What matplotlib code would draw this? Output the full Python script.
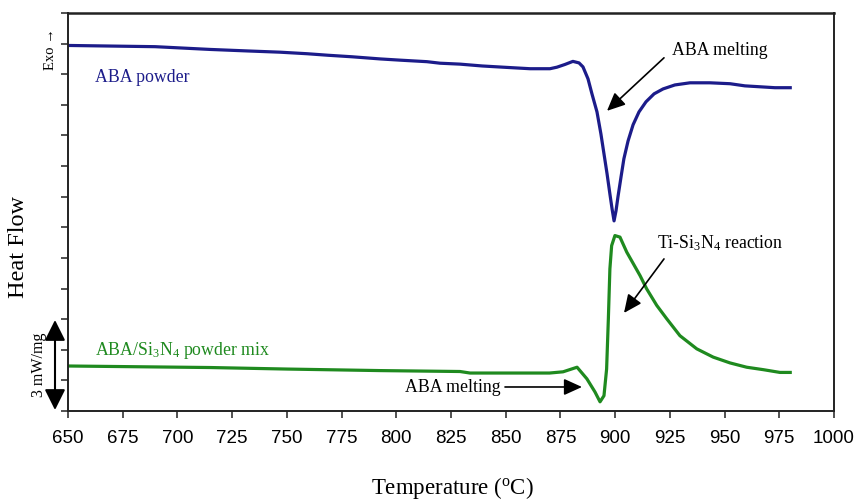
import matplotlib
matplotlib.use("Agg")
import matplotlib.pyplot as plt
import numpy as np

plt.rcParams["mathtext.fontset"] = "custom"
plt.rcParams["mathtext.rm"] = "Liberation Serif"
plt.rcParams["mathtext.it"] = "Liberation Serif:italic"
plt.rcParams["mathtext.bf"] = "Liberation Serif:bold"

# ---- data (temperature in °C, heat flow in mW/mg offset units) ----
aba_T = [650.0, 689.8, 714.9, 732.2, 746.9, 759.2, 768.8, 779.8, 792.6, 801.7,
         814.0, 820.0, 829.1, 839.2, 848.8, 861.1, 870.2, 873.4, 877.1, 880.7,
         883.5, 885.3, 887.6, 889.4, 891.7, 893.5, 894.9, 896.3, 897.6, 898.6,
         899.5, 900.4, 901.3, 902.7, 904.0, 905.9, 908.2, 910.9, 914.1, 917.8,
         921.9, 927.3, 934.2, 943.3, 952.5, 959.3, 966.2, 973.0, 980.0]
aba_HF = [11.94, 11.90, 11.81, 11.76, 11.72, 11.67, 11.62, 11.57, 11.50, 11.46,
          11.41, 11.36, 11.33, 11.27, 11.23, 11.18, 11.18, 11.23, 11.32, 11.42,
          11.37, 11.24, 10.85, 10.36, 9.77, 9.05, 8.40, 7.75, 7.09, 6.60,
          6.21, 6.54, 7.00, 7.65, 8.24, 8.82, 9.35, 9.77, 10.10, 10.36,
          10.52, 10.65, 10.72, 10.72, 10.69, 10.62, 10.59, 10.56, 10.56]

mix_T = [650.0, 714.9, 750.1, 792.6, 829.1, 833.7, 870.0, 876.2, 882.6, 887.1,
         890.8, 893.1, 894.9, 896.1, 896.9, 897.6, 898.4, 899.9, 902.2, 905.3,
         911.4, 914.4, 919.0, 923.6, 929.6, 937.3, 944.8, 952.5, 960.1, 967.7,
         975.3, 980.0]
mix_HF = [1.47, 1.42, 1.37, 1.32, 1.29, 1.24, 1.24, 1.28, 1.43, 1.05,
          0.62, 0.30, 0.50, 1.37, 3.01, 4.64, 5.40, 5.73, 5.68, 5.19,
          4.42, 3.99, 3.45, 3.01, 2.46, 2.03, 1.76, 1.57, 1.43, 1.35,
          1.26, 1.26]

x_ticks = list(range(650, 1001, 25))
y_ticks = list(range(0, 14))

W, H = 856, 502
fig = plt.figure(figsize=(W / 100, H / 100), dpi=100)
ax = fig.add_axes([68 / W, 1 - 412 / H, (834 - 68) / W, (412 - 14) / H])

blue = "#1c1c8a"
green = "#1f8a1f"
ax.plot(aba_T, aba_HF, color=blue, lw=2.3, solid_joinstyle="round")
ax.plot(mix_T, mix_HF, color=green, lw=2.3, solid_joinstyle="round")

ax.set_xlim(650, 1000)
ax.set_ylim(0, 13)
ax.set_xticks(x_ticks)
ax.set_xticklabels([str(t) for t in x_ticks], family="Liberation Sans", fontsize=13.5)
ax.set_yticks(y_ticks)
ax.set_yticklabels([])
ax.tick_params(axis="both", direction="out", length=5, width=1.2, color="#333333")
ax.tick_params(axis="x", pad=8)
for s in ax.spines.values():
    s.set_linewidth(1.4)
    s.set_color("#222222")
ax.spines["top"].set_linewidth(1.8)

serif = "Liberation Serif"
fs = 12.8

def px2data(px, py):
    return 650 + (px - 68) / 2.1886, (412 - py) / 30.6

# labels
ax.text(*px2data(95, 78), "ABA powder", color=blue, family=serif, fontsize=fs,
        va="center", ha="left")
ax.text(*px2data(95, 351), "ABA/Si$_3$N$_4$ powder mix", color=green, family=serif,
        fontsize=fs, va="center", ha="left")
ax.text(*px2data(720, 51), "ABA melting", color="black", family=serif, fontsize=fs,
        va="center", ha="center")
ax.text(*px2data(720, 243), "Ti-Si$_3$N$_4$ reaction", color="black", family=serif,
        fontsize=fs, va="center", ha="center")
ax.text(*px2data(453, 388), "ABA melting", color="black", family=serif, fontsize=fs,
        va="center", ha="center")

arrowprops = dict(arrowstyle="-|>,head_length=1.1,head_width=0.5", color="black",
                  lw=1.2, shrinkA=0, shrinkB=0)
ax.annotate("", xy=px2data(607, 112), xytext=px2data(664, 59), arrowprops=arrowprops)
ax.annotate("", xy=px2data(624, 314), xytext=px2data(664, 260), arrowprops=arrowprops)
ax.annotate("", xy=px2data(582, 388), xytext=px2data(505, 388), arrowprops=arrowprops)

# Exo arrow text and scale bar (outside the axes, figure pixel coords)
def fpx(px, py):
    return px / W, 1 - py / H

fig.text(*fpx(51, 49), "Exo \u2192", rotation=90, family=[serif, "DejaVu Sans"],
         fontsize=10.5, va="center", ha="center")
fig.text(*fpx(39, 365), "3 mW/mg", rotation=90, family=serif, fontsize=11.5,
         va="center", ha="center")
fig.patches.append(matplotlib.patches.FancyArrowPatch(
    fpx(55, 321), fpx(55, 411), transform=fig.transFigure,
    arrowstyle="<|-|>,head_length=0.9,head_width=0.45", color="black", lw=1.5,
    mutation_scale=14, shrinkA=0, shrinkB=0))

fig.text(*fpx(19, 247), "Heat Flow", rotation=90, family=serif, fontsize=17.5,
         va="center", ha="center")
fig.text(*fpx(452, 488), "Temperature ($^{\\rm o}$C)", family=serif, fontsize=16.5,
         va="center", ha="center")

fig.savefig("out.png", dpi=100)
